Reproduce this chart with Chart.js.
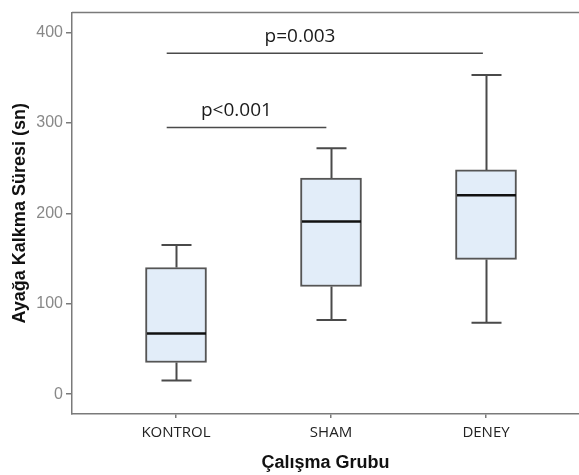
<!doctype html>
<html lang="tr">

<head>
  <meta charset="UTF-8" />
  <script src="https://cdn.jsdelivr.net/npm/chart.js@4.4.1/dist/chart.umd.min.js"></script>
  <style>
    html, body { margin: 0; padding: 0; background: #fff; }
    .chart-wrap { width: 579px; height: 475px; }
  </style>
</head>

<body>
  <div class="chart-wrap">
    <canvas id="boxChart" width="579" height="475"></canvas>
  </div>
  <script>
    // box plot values
    const groups = ['KONTROL', 'SHAM', 'DENEY'];
    const groupPos = [1, 2, 3];
    const whiskerLow = [15, 82, 79];
    const q1 = [35, 119, 149];
    const median = [67, 191, 220];
    const q3 = [140, 239, 248];
    const whiskerHigh = [165, 272, 353];
    const yTicks = [0, 100, 200, 300, 400];

    // significance brackets
    const sigLabels = ['p<0.001', 'p=0.003'];
    const sigFrom = [0.94, 0.94];
    const sigTo = [1.97, 2.98];
    const sigLevel = [295, 377];
    const sigTextX = [1.39, 1.80];

    const BOX_W = 61;
    const CAP_W = 30;

    const boxPlotPlugin = {
      id: 'boxPlot',
      afterDatasetsDraw: function (chart) {
        const ctx = chart.ctx;
        const x = chart.scales.x;
        const y = chart.scales.y;
        const area = chart.chartArea;
        ctx.save();
        // top frame line
        ctx.strokeStyle = '#7a7a7a';
        ctx.lineWidth = 1.5;
        ctx.beginPath();
        ctx.moveTo(area.left, area.top);
        ctx.lineTo(area.right, area.top);
        ctx.stroke();

        groupPos.forEach(function (g, i) {
          const cx = Math.round(x.getPixelForValue(g)) + 0.5;
          ctx.strokeStyle = '#4a4a4a';
          ctx.lineWidth = 2;
          ctx.beginPath();
          ctx.moveTo(cx, y.getPixelForValue(q3[i]));
          ctx.lineTo(cx, y.getPixelForValue(whiskerHigh[i]));
          ctx.moveTo(cx, y.getPixelForValue(q1[i]));
          ctx.lineTo(cx, y.getPixelForValue(whiskerLow[i]));
          ctx.moveTo(cx - CAP_W / 2, y.getPixelForValue(whiskerHigh[i]));
          ctx.lineTo(cx + CAP_W / 2, y.getPixelForValue(whiskerHigh[i]));
          ctx.moveTo(cx - CAP_W / 2, y.getPixelForValue(whiskerLow[i]));
          ctx.lineTo(cx + CAP_W / 2, y.getPixelForValue(whiskerLow[i]));
          ctx.stroke();
          // median
          ctx.strokeStyle = '#111';
          ctx.lineWidth = 2.5;
          ctx.beginPath();
          ctx.moveTo(cx - BOX_W / 2 + 1, y.getPixelForValue(median[i]));
          ctx.lineTo(cx + BOX_W / 2 - 1, y.getPixelForValue(median[i]));
          ctx.stroke();
        });

        // p-value brackets
        ctx.font = '19px "Open Sans"';
        ctx.textAlign = 'center';
        ctx.textBaseline = 'alphabetic';
        sigLabels.forEach(function (label, i) {
          const ly = y.getPixelForValue(sigLevel[i]);
          ctx.strokeStyle = '#4a4a4a';
          ctx.lineWidth = 1.5;
          ctx.beginPath();
          ctx.moveTo(x.getPixelForValue(sigFrom[i]), ly);
          ctx.lineTo(x.getPixelForValue(sigTo[i]), ly);
          ctx.stroke();
          ctx.fillStyle = '#1a1a1a';
          ctx.fillText(label, x.getPixelForValue(sigTextX[i]), ly - 11);
        });
        ctx.restore();
      }
    };

    const ctx = document.getElementById('boxChart').getContext('2d');
    const boxChart = new Chart(ctx, {
      type: 'bar',
      plugins: [boxPlotPlugin],
      data: {
        datasets: [{
          data: groupPos.map(function (g, i) { return { x: g, y: [q1[i], q3[i]] }; }),
          backgroundColor: '#e2edf9',
          borderColor: '#555',
          borderWidth: 2,
          borderSkipped: false,
          barThickness: BOX_W,
          grouped: false
        }]
      },
      options: {
        responsive: false,
        animation: false,
        layout: { padding: { top: 10, right: 0, bottom: 0, left: 0 } },
        plugins: {
          legend: { display: false },
          tooltip: { enabled: false }
        },
        scales: {
          x: {
            type: 'linear',
            min: 0.329,
            max: 3.6,
            offset: false,
            afterFit: function (scale) { scale.height = 61; },
            afterBuildTicks: function (scale) {
              scale.ticks = groupPos.map(function (v) { return { value: v }; });
            },
            border: { display: true, color: '#7a7a7a', width: 1.5 },
            grid: { offset: false, drawOnChartArea: false, drawTicks: true, tickLength: 4, color: '#7a7a7a', lineWidth: 1.5 },
            ticks: {
              padding: 6,
              color: '#222',
              font: { family: '"Open Sans"', size: 15 },
              callback: function (value) { return groups[groupPos.indexOf(value)]; }
            },
            title: {
              display: true,
              text: 'Çalışma Grubu',
              color: '#111',
              font: { family: '"Liberation Sans", Arial', size: 18, weight: 'bold' },
              padding: { top: 0, bottom: 1 }
            }
          },
          y: {
            min: -22,
            max: 422,
            afterFit: function (scale) { scale.width = 72; },
            afterBuildTicks: function (scale) {
              scale.ticks = yTicks.map(function (v) { return { value: v }; });
            },
            border: { display: true, color: '#7a7a7a', width: 1.5 },
            grid: { drawOnChartArea: false, drawTicks: true, tickLength: 6, color: '#7a7a7a', lineWidth: 1.5 },
            ticks: {
              padding: 3,
              color: '#888',
              font: { family: '"Liberation Sans", Arial', size: 16 }
            },
            title: {
              display: true,
              text: 'Ayağa Kalkma Süresi (sn)',
              color: '#111',
              font: { family: '"Liberation Sans", Arial', size: 18, weight: 'bold' },
              padding: { top: 9, bottom: 0 }
            }
          }
        }
      }
    });
  </script>
</body>

</html>
